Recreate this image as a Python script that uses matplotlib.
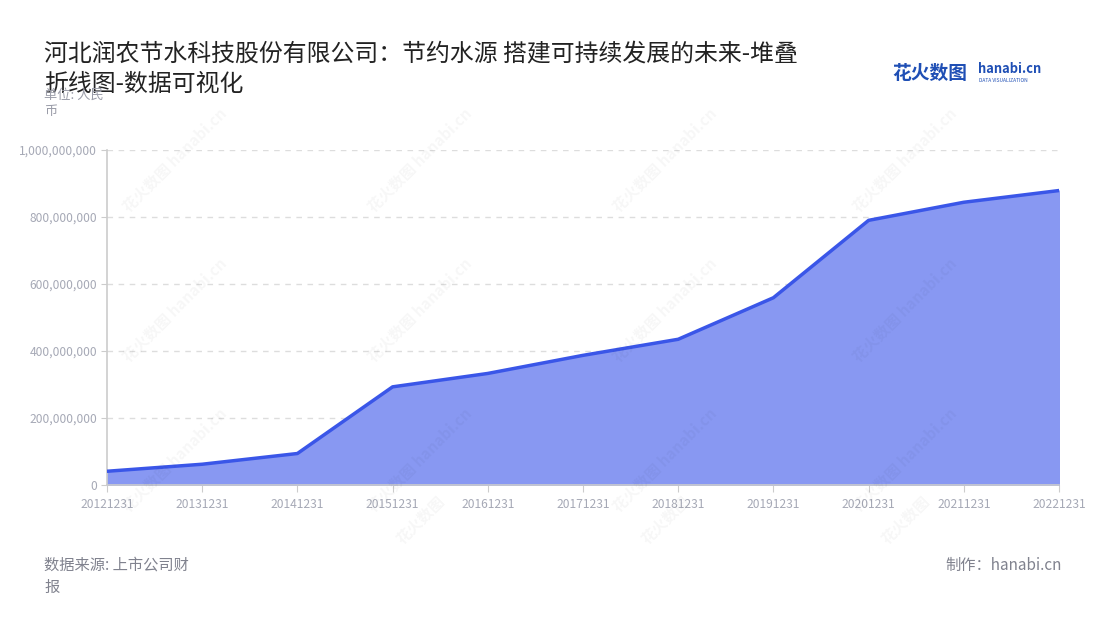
import matplotlib
matplotlib.use("Agg")
import matplotlib.pyplot as plt
from matplotlib.ticker import FuncFormatter

plt.rcParams['font.family'] = ['Noto Sans CJK SC', 'DejaVu Sans']

# data (yuan)
dates = ['20121231', '20131231', '20141231', '20151231', '20161231', '20171231',
         '20181231', '20191231', '20201231', '20211231', '20221231']
values = [41e6, 62e6, 94e6, 293e6, 333e6, 387e6,
          435e6, 559e6, 790e6, 844e6, 879e6]

title = '河北润农节水科技股份有限公司：节约水源 搭建可持续发展的未来-堆叠\n折线图-数据可视化'
unit_text = '单位: 人民\n币'
source_text = '数据来源: 上市公司财\n报'
credit_text = '制作：hanabi.cn'

W, H = 1100, 620
fig = plt.figure(figsize=(W / 100, H / 100), dpi=100)
ax = fig.add_axes([107 / W, 1 - 485 / H, (1059 - 107) / W, (485 - 150) / H])

x = list(range(len(dates)))
ax.fill_between(x, values, 0, color='#8898f2', zorder=2)
ax.plot(x, values, color='#3a56e8', lw=2.5, zorder=3, solid_joinstyle='round')

ax.set_xlim(0, len(dates) - 1)
ax.set_ylim(0, 1e9)
ax.set_yticks([0, 2e8, 4e8, 6e8, 8e8, 1e9])
ax.yaxis.set_major_formatter(FuncFormatter(lambda v, p: f'{int(v):,}'))
ax.set_xticks(x)
ax.set_xticklabels(dates)

ax.grid(axis='y', ls=(0, (4, 4)), color='#dddddd', lw=1, zorder=1)
for s in ['top', 'right']:
    ax.spines[s].set_visible(False)
ax.spines['left'].set_color('#cccccc')
ax.spines['bottom'].set_color('#cccccc')
ax.spines['left'].set_linewidth(1.2)
ax.spines['bottom'].set_linewidth(1.2)
ax.tick_params(axis='x', colors='#cccccc', labelcolor='#a6a9b6', labelsize=8.7,
               length=5, pad=4)
ax.tick_params(axis='y', colors='#cccccc', labelcolor='#a6a9b6', labelsize=8.7,
               length=4, pad=3)

# watermark tiles
for wx in [175, 420, 665, 905]:
    for wy in [160, 310, 460]:
        fig.text(wx / W, 1 - wy / H, '花火数图 hanabi.cn', rotation=45,
                 fontsize=11, color='#000000', alpha=0.035, fontweight='bold',
                 ha='center', va='center', zorder=10)
for wx in [420, 665, 905]:
    fig.text(wx / W, 1 - 520 / H, '花火数图', rotation=45,
             fontsize=11, color='#000000', alpha=0.035, fontweight='bold',
             ha='center', va='center', zorder=10)

fig.text(44 / W, 1 - 42 / H, title, fontsize=17.2, color='#222222',
         ha='left', va='top', linespacing=1.45)
fig.text(44 / W, 1 - 89 / H, unit_text, fontsize=9.5, color='#9a9ca8',
         ha='left', va='top', linespacing=1.35)
fig.text(44 / W, 1 - 557 / H, source_text, fontsize=11, color='#80828e',
         ha='left', va='top', linespacing=1.4)
fig.text(1062 / W, 1 - 557 / H, credit_text, fontsize=11, color='#80828e',
         ha='right', va='top')

# logo
fig.text(892 / W, 1 - 73 / H, '花火数图', fontsize=13.5, color='#1f4fb5',
         fontweight='bold', ha='left', va='center')
fig.text(978 / W, 1 - 69 / H, 'hanabi.cn', fontsize=9.3, color='#1f4fb5',
         fontweight='bold', ha='left', va='center')
fig.text(979 / W, 1 - 80 / H, 'DATA VISUALIZATION', fontsize=3.5, color='#1f4fb5',
         ha='left', va='center')

fig.savefig('out.png', dpi=100, facecolor='white')
